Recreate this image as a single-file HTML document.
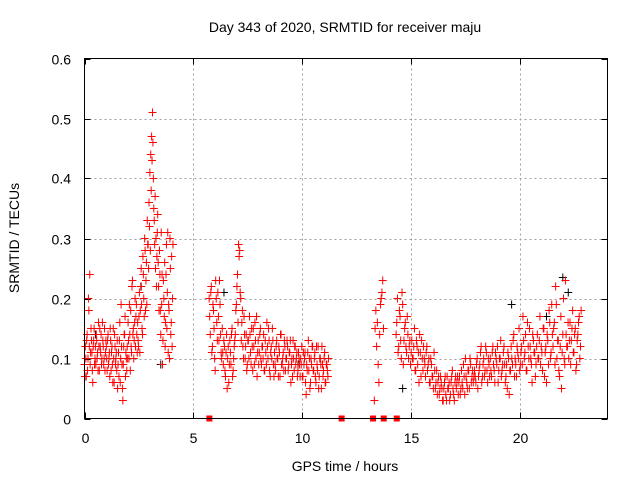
<!DOCTYPE html>
<html><head><meta charset="utf-8"><style>
html,body{margin:0;padding:0;background:#fff;}
svg{display:block;font-family:"Liberation Sans",sans-serif;}
</style></head><body>
<svg id="chart" width="640" height="480" viewBox="0 0 640 480" xmlns="http://www.w3.org/2000/svg">
<rect x="0" y="0" width="640" height="480" fill="#fff"/>
<text x="345" y="32" font-size="14" text-anchor="middle" fill="#000">Day 343 of 2020, SRMTID for receiver maju</text>
<text x="0" y="0" font-size="14" text-anchor="middle" fill="#000" transform="translate(19,238) rotate(-90)">SRMTID / TECUs</text>
<text x="345" y="471" font-size="14" text-anchor="middle" fill="#000">GPS time / hours</text>
<g id="grid"></g>
<g id="ticks"></g>
<g id="black"></g>
<g id="red"></g>
<rect x="84.5" y="58.5" width="523" height="360" fill="none" stroke="#000" stroke-width="1"/>
</svg>
<script>
const xTicks = [0,5,10,15,20];
const yTicks = [0,0.1,0.2,0.3,0.4,0.5,0.6];
const yTickLabels = ["0","0.1","0.2","0.3","0.4","0.5","0.6"];

const segA1start = 0.0, segA1step = 0.04;
const segA1 = [0.09,0.12,0.07,0.14,0.10,0.18,0.24,0.11,0.13,0.08,0.12,0.15,0.10,
0.09,0.13,0.11,0.16,0.08,0.12,0.14,0.10,0.13,0.09,0.15,0.11,
0.12,0.08,0.14,0.10,0.07,0.13,0.11,0.09,0.15,0.06,0.12,0.10,
0.08,0.05,0.11,0.13,0.06,0.19,0.09,0.03,0.12,0.14,0.07,0.10,
0.12,0.16,0.10,0.14,0.18,0.11,0.23,0.15,0.13,0.20,0.17,0.14,
0.16,0.12,0.21,0.18,0.25,0.15,0.27,0.20,0.30,0.18,0.26,0.33,
0.29,0.36,0.41,0.44,0.47,0.51,0.40,0.33,0.37,0.30,0.27,0.34,
0.22,0.28,0.18,0.31,0.24,0.13,0.20,0.26,0.16,0.29,0.21,0.11,0.18,0.30,0.14,0.27,0.20];
const segA2start = 0.02, segA2step = 0.04;
const segA2 = [0.07,0.10,0.13,0.08,0.20,0.12,0.09,0.15,0.11,0.06,0.13,0.09,0.12,
0.14,0.10,0.08,0.12,0.15,0.11,0.09,0.16,0.12,0.10,0.08,0.13,
0.10,0.13,0.09,0.11,0.15,0.08,0.12,0.06,0.10,0.14,0.09,0.11,
0.13,0.09,0.07,0.16,0.10,0.12,0.05,0.09,0.14,0.17,0.11,0.08,
0.10,0.13,0.19,0.08,0.12,0.22,0.14,0.10,0.16,0.12,0.19,0.11,
0.13,0.17,0.11,0.22,0.19,0.14,0.24,0.17,0.28,0.23,0.19,0.29,
0.25,0.32,0.28,0.38,0.43,0.46,0.35,0.29,0.25,0.22,0.31,0.26,
0.18,0.24,0.14,0.19,0.09,0.23,0.17,0.12,0.24,0.15,0.31,0.19,0.10,0.25,0.16,0.12,0.29];
const segB1start = 5.72, segB1step = 0.05;
const segB1 = [0.20,0.14,0.22,0.12,0.18,0.10,0.23,0.16,0.21,0.13,0.19,0.11,
0.15,0.09,0.12,0.07,0.14,0.10,0.06,0.13,0.09,0.15,0.08,0.12,
0.14,0.19,0.24,0.29,0.28,0.20,0.16,0.12,0.17,0.10,0.14,0.09,
0.13,0.17,0.11,0.15,0.08,0.12,0.16,0.10,0.07,0.13,0.11,0.15,
0.09,0.12,0.14,0.08,0.11,0.16,0.10,0.13,0.07,0.12,0.15,0.09,
0.11,0.08,0.13,0.10,0.12,0.07,0.14,0.09,0.11,0.13,0.08,0.10,
0.12,0.09,0.11,0.06,0.10,0.13,0.08,0.12,0.10,0.07,0.11,0.09,
0.10,0.12,0.07,0.09,0.11,0.04,0.08,0.13,0.10,0.06,0.09,0.12,
0.08,0.11,0.06,0.09,0.12,0.07,0.10,0.05,0.09,0.08,0.11,0.06,
0.09,0.07];
const segB2start = 5.745, segB2step = 0.05;
const segB2 = [0.17,0.21,0.11,0.19,0.15,0.08,0.20,0.13,0.17,0.23,0.14,0.10,
0.11,0.13,0.08,0.11,0.05,0.12,0.09,0.11,0.14,0.07,0.10,0.13,
0.18,0.22,0.16,0.27,0.21,0.13,0.18,0.10,0.14,0.12,0.08,0.13,
0.10,0.14,0.09,0.12,0.15,0.09,0.13,0.17,0.11,0.09,0.14,0.10,
0.12,0.10,0.08,0.13,0.09,0.12,0.15,0.08,0.11,0.10,0.13,0.07,
0.09,0.12,0.10,0.07,0.11,0.14,0.09,0.10,0.08,0.12,0.10,0.13,
0.08,0.11,0.13,0.09,0.07,0.10,0.12,0.09,0.11,0.08,0.10,0.07,
0.09,0.07,0.11,0.10,0.06,0.09,0.11,0.08,0.05,0.10,0.12,0.08,
0.10,0.07,0.12,0.08,0.05,0.10,0.09,0.12,0.07,0.10,0.06,0.09,
0.08,0.10];
const segCstart = 13.30, segCstep = 0.035;
const segC = [0.03,0.15,0.18,0.12,0.16,0.09,0.06,0.14,0.19,0.20,0.21,0.23,0.15];
const segD1start = 14.30, segD1step = 0.06;
const segD1 = [0.14,0.20,0.12,0.17,0.10,0.19,0.13,0.16,0.11,0.14,0.12,0.09,
0.13,0.10,0.15,0.08,0.12,0.11,0.14,0.07,0.10,0.12,0.09,0.11,
0.08,0.10,0.06,0.09,0.07,0.11,0.05,0.08,0.06,0.04,0.07,0.05,
0.03,0.06,0.04,0.07,0.05,0.03,0.06,0.08,0.04,0.06,0.05,0.07,
0.06,0.04,0.08,0.05,0.07,0.10,0.06,0.08,0.05,0.09,0.07,0.06,
0.08,0.06,0.10,0.07,0.09,0.12,0.07,0.10,0.08,0.11,0.06,0.09,
0.10,0.07,0.12,0.08,0.11,0.09,0.06,0.10,0.13,0.08,0.11,0.09,
0.07,0.05,0.10,0.08,0.12,0.09,0.14,0.10,0.07,0.11,0.15,0.09,
0.12,0.17,0.10,0.14,0.08,0.12,0.15,0.10,0.06,0.13,0.11,0.09,
0.14,0.10,0.17,0.12,0.08,0.15,0.11,0.06,0.13,0.18,0.10,0.19,
0.12,0.16,0.22,0.10,0.13,0.07,0.17,0.11,0.20,0.09,0.14,0.12,
0.10,0.16,0.13,0.18,0.11,0.15,0.09,0.14,0.17,0.12];
const segD2start = 14.33, segD2step = 0.06;
const segD2 = [0.16,0.11,0.18,0.13,0.21,0.09,0.15,0.12,0.17,0.10,0.13,0.11,
0.10,0.12,0.08,0.13,0.09,0.06,0.11,0.13,0.08,0.10,0.07,0.12,
0.09,0.06,0.10,0.07,0.05,0.08,0.06,0.04,0.07,0.05,0.06,0.03,
0.05,0.07,0.03,0.05,0.06,0.04,0.07,0.05,0.03,0.07,0.06,0.04,
0.07,0.05,0.06,0.09,0.04,0.07,0.05,0.08,0.10,0.06,0.08,0.07,
0.07,0.09,0.05,0.08,0.11,0.06,0.09,0.07,0.12,0.08,0.10,0.07,
0.08,0.11,0.09,0.06,0.10,0.12,0.08,0.10,0.07,0.09,0.12,0.06,
0.09,0.11,0.04,0.08,0.10,0.13,0.07,0.09,0.12,0.10,0.08,0.11,
0.09,0.13,0.11,0.08,0.16,0.10,0.12,0.09,0.14,0.11,0.07,0.12,
0.10,0.13,0.09,0.11,0.15,0.07,0.12,0.14,0.09,0.16,0.11,0.14,
0.15,0.09,0.19,0.13,0.08,0.12,0.05,0.14,0.10,0.23,0.12,0.16,
0.13,0.09,0.15,0.11,0.14,0.08,0.13,0.16,0.10,0.18];
const zeroHours = [5.73,11.8,13.24,13.73,14.33];
const blackHours = [0.5,2.6,3.5,6.4,9.8,14.6,19.6,21.2,21.95,22.2];
const blackValues = [0.14,0.22,0.09,0.21,0.09,0.05,0.19,0.17,0.235,0.21];

const X0=84.5, X1=607.5, Y0=418.5, Y1=58.5;
function xs(h){return X0+(h/24)*(X1-X0);}
function ys(v){return Y0-(v/0.6)*(Y0-Y1);}
const NS="http://www.w3.org/2000/svg";
function mk(tag,attrs,parent){const e=document.createElementNS(NS,tag);for(const k in attrs)e.setAttribute(k,attrs[k]);parent.appendChild(e);return e;}

const grid=document.getElementById('grid'), ticks=document.getElementById('ticks');
xTicks.forEach(t=>{
  const x=Math.round(xs(t))+0.5;
  if(t>0){const g=mk('line',{x1:x,x2:x,y1:Y1,y2:Y0,stroke:'#a0a0a0','stroke-dasharray':'2,3'},grid);
  
  }
  mk('line',{x1:x,x2:x,y1:Y0,y2:Y0-6,stroke:'#000'},ticks);
  mk('line',{x1:x,x2:x,y1:Y1,y2:Y1+6,stroke:'#000'},ticks);
  const tx=mk('text',{x:x,y:443,'font-size':14,'text-anchor':'middle',fill:'#000'},ticks);
  tx.textContent=String(t);
  
  
});
yTicks.forEach((t,i)=>{
  const y=Math.round(ys(t))+0.5;
  if(t>0&&t<0.6){const g=mk('line',{x1:X0,x2:X1,y1:y,y2:y,stroke:'#a0a0a0','stroke-dasharray':'2,3'},grid);
  
  }
  mk('line',{x1:X0,x2:X0+6,y1:y,y2:y,stroke:'#000'},ticks);
  mk('line',{x1:X1,x2:X1-6,y1:y,y2:y,stroke:'#000'},ticks);
  const tx=mk('text',{x:71,y:y+5,'font-size':14,'text-anchor':'end',fill:'#000'},ticks);
  tx.textContent=yTickLabels[i];
  
  
});
function plus(h,v,color,parent){
  const x=xs(h), y=ys(v);
  const p=mk('path',{d:`M${x-4} ${y}H${x+4}M${x} ${y-4}V${y+4}`,stroke:color,'stroke-width':1,fill:'none'},parent);
  
  
}
const blk=document.getElementById('black'), red=document.getElementById('red');
blackHours.forEach((h,i)=>plus(h,blackValues[i],'#000',blk));
[[segA1start,segA1step,segA1],[segA2start,segA2step,segA2],[segB1start,segB1step,segB1],[segB2start,segB2step,segB2],
 [segCstart,segCstep,segC],[segD1start,segD1step,segD1],[segD2start,segD2step,segD2]].forEach(s=>{
  s[2].forEach((v,i)=>plus(s[0]+i*s[1],v,'#ff0000',red));
});
zeroHours.forEach(h=>{
  const r=mk('rect',{x:xs(h)-3,y:ys(0)-3,width:6,height:6,fill:'#ff0000'},red);
  
  
});
</script>
</body></html>
